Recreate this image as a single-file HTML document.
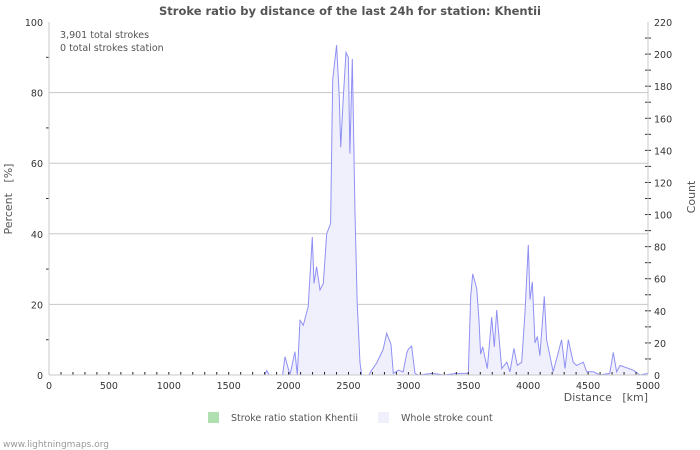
<!DOCTYPE html>
<html><head><meta charset="utf-8"><style>
body{margin:0;background:#fff;}
svg{display:block;font-family:"DejaVu Sans","Liberation Sans",sans-serif;}
</style></head><body>
<svg id="chart" width="700" height="450">
<text x="350" y="15" text-anchor="middle" font-size="11.5" font-weight="bold" fill="#555">Stroke ratio by distance of the last 24h for station: Khentii</text>
<g id="grid"></g>
<path id="area" fill="#f0f0fc" stroke="none"></path>
<path id="line" fill="none" stroke="#9090f4" stroke-width="1"></path>
<g id="axes"></g>
<text x="60" y="38" font-size="9.5" fill="#555">3,901 total strokes</text>
<text x="60" y="51" font-size="9.5" fill="#555">0 total strokes station</text>
<text x="648" y="401" text-anchor="end" font-size="11" fill="#555">Distance&#160;&#160;&#160;[km]</text>
<text transform="translate(12,199) rotate(-90)" text-anchor="middle" font-size="11" fill="#555">Percent&#160;&#160;&#160;[%]</text>
<text transform="translate(695,197) rotate(-90)" text-anchor="middle" font-size="11" fill="#555">Count</text>
<rect x="208" y="412" width="11" height="11" fill="#b0e0b0"></rect>
<text x="231" y="421" font-size="9.5" fill="#555">Stroke ratio station Khentii</text>
<rect x="378" y="412" width="11" height="11" fill="#f0f0fc"></rect>
<text x="401" y="421" font-size="9.5" fill="#555">Whole stroke count</text>
<text x="3" y="447" font-size="9" fill="#999">www.lightningmaps.org</text>
</svg>
<script>
const distances=[0,1800,1817,1840,1950,1970,2012,2053,2073,2095,2123,2164,2198,2212,2234,2262,2290,2318,2351,2368,2401,2423,2435,2457,2479,2498,2512,2532,2554,2573,2596,2610,2670,2694,2735,2790,2819,2855,2874,2916,2957,2986,2999,3027,3055,3083,3200,3300,3400,3500,3520,3537,3570,3589,3603,3620,3659,3695,3717,3737,3779,3821,3848,3881,3909,3946,3973,4001,4015,4034,4057,4076,4098,4134,4154,4209,4279,4307,4335,4376,4404,4460,4488,4543,4599,4680,4710,4738,4766,4877,4933,5000];
const counts=[0,0,2.7,0,0,11.4,0,14.5,0,34,31,42.6,86,57,67.5,53,57,88,94.5,184,205.6,173,142,173,201,198,138,197,101,45,7.5,0,0,3,7.5,16,26,19,1,3,2,13.5,16,18,1,0,1,0,1,1,49,63,54,34,13,17.6,4,36,17.6,40.5,4,8,2,16.6,6,8,39,81,47,58,20,24,12,49,22,2,22,4,22,8,6,8,2,2,0,1,14,2,6,3,0,1];
const pctTicks=[0,20,40,60,80,100];
const countTicks=[0,20,40,60,80,100,120,140,160,180,200,220];
const distTicks=[0,500,1000,1500,2000,2500,3000,3500,4000,4500,5000];
const X0=49,X1=648,Y0=375,Y1=22;
const xs=d=>X0+d/5000*(X1-X0);
const yp=p=>Y0-p/100*(Y0-Y1);
const yc=c=>Y0-c/220*(Y0-Y1);
const NS="http://www.w3.org/2000/svg";
const grid=document.getElementById('grid'),axes=document.getElementById('axes');
function mk(tag,attrs,parent){const e=document.createElementNS(NS,tag);for(const k in attrs)e.setAttribute(k,attrs[k]);parent.appendChild(e);return e;}
pctTicks.forEach(p=>{
 if(p>0&&p<100){const g=mk('line',{x1:X0,x2:X1,y1:yp(p),y2:yp(p),stroke:'#c8c8c8','stroke-width':1},grid);
 
 }
 const t=mk('text',{x:X0-6,y:yp(p)+4,'text-anchor':'end','font-size':9.5,fill:'#333'},axes);t.textContent=p;
 
 
});
for(let p=10;p<100;p+=20){mk('line',{x1:X0-3,x2:X0,y1:yp(p),y2:yp(p),stroke:'#333'},axes);}
countTicks.forEach(c=>{
 const t=mk('text',{x:X1+6,y:yc(c)+4,'font-size':9.5,fill:'#333'},axes);t.textContent=c;
 
 
});
for(let c=10;c<220;c+=10){mk('line',{x1:X1-3,x2:X1+3,y1:yc(c),y2:yc(c),stroke:'#333'},axes);}
distTicks.forEach(d=>{
 const t=mk('text',{x:xs(d),y:Y0+14,'text-anchor':'middle','font-size':9.5,fill:'#333'},axes);t.textContent=d;
 
 
});
for(let d=100;d<5000;d+=100){mk('line',{x1:xs(d),x2:xs(d),y1:Y0-3,y2:Y0,stroke:'#222'},axes);}
mk('line',{x1:X0,x2:X0,y1:Y1,y2:Y0,stroke:'#c8c8c8'},axes);
mk('line',{x1:X1,x2:X1,y1:Y1,y2:Y0,stroke:'#c8c8c8'},axes);
mk('line',{x1:X0,x2:X1,y1:Y0,y2:Y0,stroke:'#c8c8c8'},axes);
let d='';distances.forEach((v,i)=>{d+=(i?'L':'M')+xs(v).toFixed(1)+','+yc(counts[i]).toFixed(1);});
document.getElementById('line').setAttribute('d',d);
document.getElementById('area').setAttribute('d',d+'L'+xs(5000)+','+Y0+'L'+xs(0)+','+Y0+'Z');
</script>
</body></html>
